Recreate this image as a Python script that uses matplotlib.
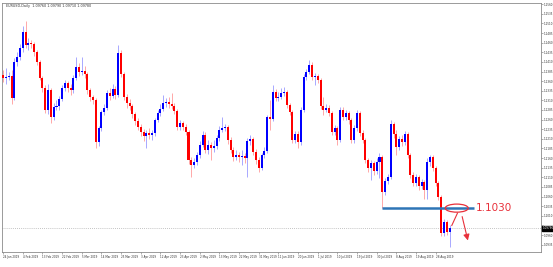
import numpy as np
import pandas as pd
import matplotlib
matplotlib.use("Agg")
import matplotlib.pyplot as plt
from matplotlib.patches import Ellipse

# EURUSD daily candles (last bar = 4 Sep 2019)
first_open = 1.1376
closes = [1.1368, 1.1371, 1.1373, 1.1316, 1.1410, 1.1423, 1.1446, 1.1488, 1.1454, 1.1459,
          1.1457, 1.1436, 1.1410, 1.1368, 1.1342, 1.1285, 1.1337, 1.1267, 1.1293, 1.1295,
          1.1314, 1.1342, 1.1355, 1.1342, 1.1337, 1.1368, 1.1397, 1.1384, 1.1386, 1.1379,
          1.1337, 1.1319, 1.1311, 1.1202, 1.1238, 1.1280, 1.1290, 1.1329, 1.1321, 1.1340,
          1.1324, 1.1433, 1.1379, 1.1319, 1.1303, 1.1295, 1.1275, 1.1256, 1.1241, 1.1228,
          1.1217, 1.1225, 1.1220, 1.1225, 1.1259, 1.1277, 1.1288, 1.1303, 1.1306, 1.1301,
          1.1295, 1.1282, 1.1241, 1.1251, 1.1241, 1.1228, 1.1155, 1.1142, 1.1150, 1.1168,
          1.1194, 1.1220, 1.1181, 1.1194, 1.1186, 1.1191, 1.1212, 1.1233, 1.1238, 1.1241,
          1.1207, 1.1181, 1.1163, 1.1168, 1.1163, 1.1165, 1.1160, 1.1204, 1.1210, 1.1176,
          1.1155, 1.1134, 1.1168, 1.1178, 1.1267, 1.1262, 1.1332, 1.1316, 1.1319, 1.1329,
          1.1332, 1.1298, 1.1280, 1.1207, 1.1223, 1.1202, 1.1285, 1.1371, 1.1384, 1.1402,
          1.1371, 1.1373, 1.1363, 1.1295, 1.1285, 1.1290, 1.1277, 1.1228, 1.1238, 1.1207,
          1.1285, 1.1267, 1.1277, 1.1259, 1.1207, 1.1238, 1.1277, 1.1225, 1.1207, 1.1155,
          1.1134, 1.1147, 1.1126, 1.1150, 1.1163, 1.1072, 1.1100, 1.1111, 1.1249, 1.1223,
          1.1189, 1.1210, 1.1202, 1.1223, 1.1168, 1.1116, 1.1095, 1.1111, 1.1087, 1.1098,
          1.1077, 1.1150, 1.1163, 1.1134, 1.1095, 1.1059, 1.0965, 1.0994, 1.0968, 1.0978]
highs = [1.1389, 1.1394, 1.1384, 1.1389, 1.1420, 1.1436, 1.1457, 1.1503, 1.1516, 1.1472,
         1.1467, 1.1462, 1.1441, 1.1415, 1.1373, 1.1350, 1.1353, 1.1342, 1.1303, 1.1311,
         1.1321, 1.1350, 1.1363, 1.1360, 1.1353, 1.1376, 1.1423, 1.1407, 1.1423, 1.1399,
         1.1384, 1.1342, 1.1324, 1.1316, 1.1243, 1.1285, 1.1301, 1.1337, 1.1342, 1.1353,
         1.1347, 1.1454, 1.1441, 1.1384, 1.1327, 1.1314, 1.1301, 1.1280, 1.1264, 1.1249,
         1.1236, 1.1233, 1.1238, 1.1233, 1.1264, 1.1285, 1.1301, 1.1324, 1.1316, 1.1319,
         1.1329, 1.1303, 1.1288, 1.1259, 1.1256, 1.1249, 1.1233, 1.1163, 1.1160, 1.1176,
         1.1204, 1.1230, 1.1228, 1.1207, 1.1202, 1.1207, 1.1220, 1.1243, 1.1267, 1.1249,
         1.1246, 1.1215, 1.1189, 1.1181, 1.1176, 1.1181, 1.1173, 1.1212, 1.1220, 1.1215,
         1.1184, 1.1163, 1.1173, 1.1189, 1.1272, 1.1311, 1.1350, 1.1340, 1.1332, 1.1342,
         1.1345, 1.1337, 1.1303, 1.1285, 1.1230, 1.1230, 1.1293, 1.1379, 1.1392, 1.1415,
         1.1410, 1.1381, 1.1379, 1.1368, 1.1319, 1.1301, 1.1298, 1.1282, 1.1246, 1.1243,
         1.1293, 1.1293, 1.1285, 1.1282, 1.1264, 1.1246, 1.1285, 1.1282, 1.1233, 1.1212,
         1.1160, 1.1155, 1.1152, 1.1160, 1.1173, 1.1168, 1.1108, 1.1119, 1.1259, 1.1254,
         1.1233, 1.1217, 1.1220, 1.1230, 1.1228, 1.1173, 1.1124, 1.1119, 1.1116, 1.1106,
         1.1103, 1.1160, 1.1168, 1.1168, 1.1139, 1.1100, 1.1064, 1.1002, 1.0999, 1.0986]
lows = [1.1358, 1.1353, 1.1363, 1.1301, 1.1311, 1.1399, 1.1415, 1.1436, 1.1446, 1.1441,
        1.1446, 1.1425, 1.1402, 1.1363, 1.1332, 1.1277, 1.1275, 1.1251, 1.1259, 1.1285,
        1.1285, 1.1308, 1.1334, 1.1332, 1.1324, 1.1329, 1.1363, 1.1373, 1.1376, 1.1368,
        1.1327, 1.1308, 1.1301, 1.1186, 1.1191, 1.1230, 1.1272, 1.1285, 1.1311, 1.1316,
        1.1314, 1.1319, 1.1371, 1.1311, 1.1290, 1.1285, 1.1264, 1.1246, 1.1233, 1.1217,
        1.1204, 1.1186, 1.1210, 1.1207, 1.1217, 1.1254, 1.1269, 1.1282, 1.1293, 1.1290,
        1.1288, 1.1275, 1.1233, 1.1233, 1.1233, 1.1220, 1.1145, 1.1111, 1.1134, 1.1142,
        1.1160, 1.1189, 1.1173, 1.1171, 1.1155, 1.1176, 1.1184, 1.1204, 1.1228, 1.1230,
        1.1197, 1.1173, 1.1152, 1.1155, 1.1150, 1.1142, 1.1147, 1.1111, 1.1194, 1.1168,
        1.1145, 1.1124, 1.1129, 1.1160, 1.1173, 1.1233, 1.1256, 1.1308, 1.1308, 1.1314,
        1.1321, 1.1290, 1.1272, 1.1199, 1.1199, 1.1186, 1.1194, 1.1280, 1.1363, 1.1379,
        1.1363, 1.1350, 1.1355, 1.1288, 1.1272, 1.1280, 1.1269, 1.1220, 1.1220, 1.1194,
        1.1202, 1.1259, 1.1259, 1.1249, 1.1199, 1.1199, 1.1230, 1.1217, 1.1199, 1.1147,
        1.1124, 1.1103, 1.1116, 1.1119, 1.1108, 1.1030, 1.1064, 1.1093, 1.1106, 1.1212,
        1.1168, 1.1181, 1.1191, 1.1194, 1.1160, 1.1108, 1.1087, 1.1087, 1.1077, 1.1080,
        1.1054, 1.1054, 1.1139, 1.1126, 1.1087, 1.1051, 1.0957, 1.0957, 1.0960, 1.0929]

title = "EURUSD,Daily  1.09760 1.09790 1.09710 1.09780"
level = 1.1030
level_bar = 135          # bar whose low the support line starts from
y_ticks = [round(1.1560 - 0.0025 * k, 4) for k in range(26)]
dates = pd.bdate_range(end="2019-09-04", periods=len(closes))

opens = [first_open] + closes[:-1]
n = len(closes)
x = np.arange(n)
o = np.array(opens)
c = np.array(closes)
up = c >= o

fig = plt.figure(figsize=(5.53, 2.67), dpi=100)
ax = fig.add_axes([2 / 553, 15 / 267, 539 / 553, 249 / 267])

# wicks then bodies
ax.vlines(x[up], np.array(lows)[up], np.array(highs)[up], color="#a8a8ff", lw=0.7, zorder=2)
ax.vlines(x[~up], np.array(lows)[~up], np.array(highs)[~up], color="#ffa8a8", lw=0.7, zorder=2)
body = np.where(np.abs(c - o) < 0.00008, 0.00008, c - o)
ax.bar(x[up], body[up], bottom=o[up], width=0.72, color="#0000ff", zorder=3)
ax.bar(x[~up], body[~up], bottom=o[~up], width=0.72, color="#ff0000", zorder=3)

ax.set_xlim(-0.4, 191.5)
ax.set_ylim(1.0916, 1.1563)

# current price line and marker
last = closes[-1]
ax.axhline(last, color="#b0b0b0", lw=0.6, ls=(0, (1, 1.5)), zorder=1)
ax.text(1.003, last, "%.5f" % last, transform=ax.get_yaxis_transform(), ha="left", va="center",
        fontsize=2.0, color="white", bbox=dict(boxstyle="square,pad=0.2", fc="black", ec="black"),
        clip_on=False, zorder=10)

# support line, ellipse, label and arrows
ax.hlines(level, level_bar, n + 7.5, color="#2e75b6", lw=1.8, zorder=4)
ax.add_patch(Ellipse((n + 1.5, level), 8.2, 0.0021, fill=False, ec="#e8303a", lw=0.9, zorder=5))
ax.text(n + 8.2, level, "1.1030", color="#e8303a", fontsize=7.5, va="center", ha="left")
ax.annotate("", xy=(n + 2.2, level - 0.0006), xytext=(n - 0.7, last),
            arrowprops=dict(arrowstyle="-", color="#e8303a", lw=0.8))
ax.annotate("", xy=(n + 5.7, 1.0939), xytext=(n + 3.2, level - 0.0015),
            arrowprops=dict(arrowstyle="-|>,head_length=0.35,head_width=0.18", color="#e8303a", lw=0.8))

ax.text(0.008, 0.995, title, transform=ax.transAxes, fontsize=2.4, va="top", ha="left", color="#333333")

# axes look like the terminal; the price box hides the label it sits on
ax.yaxis.tick_right()
ax.set_yticks(y_ticks)
ax.set_yticklabels(["" if abs(v - last) < 0.0012 else "%.4f" % v for v in y_ticks])
tick_idx = list(range(0, n, 7))
ax.set_xticks(tick_idx)
ax.set_xticklabels([f"{dates[i].day} {dates[i]:%b %Y}" for i in tick_idx], ha="left")
ax.tick_params(axis="both", labelsize=2.0, length=1.2, width=0.4, color="#707070",
               labelcolor="#333333", pad=0.8)
for s in ax.spines.values():
    s.set_color("#8a8a8a")
    s.set_linewidth(0.6)

fig.savefig("out.png", dpi=100, facecolor="white")
